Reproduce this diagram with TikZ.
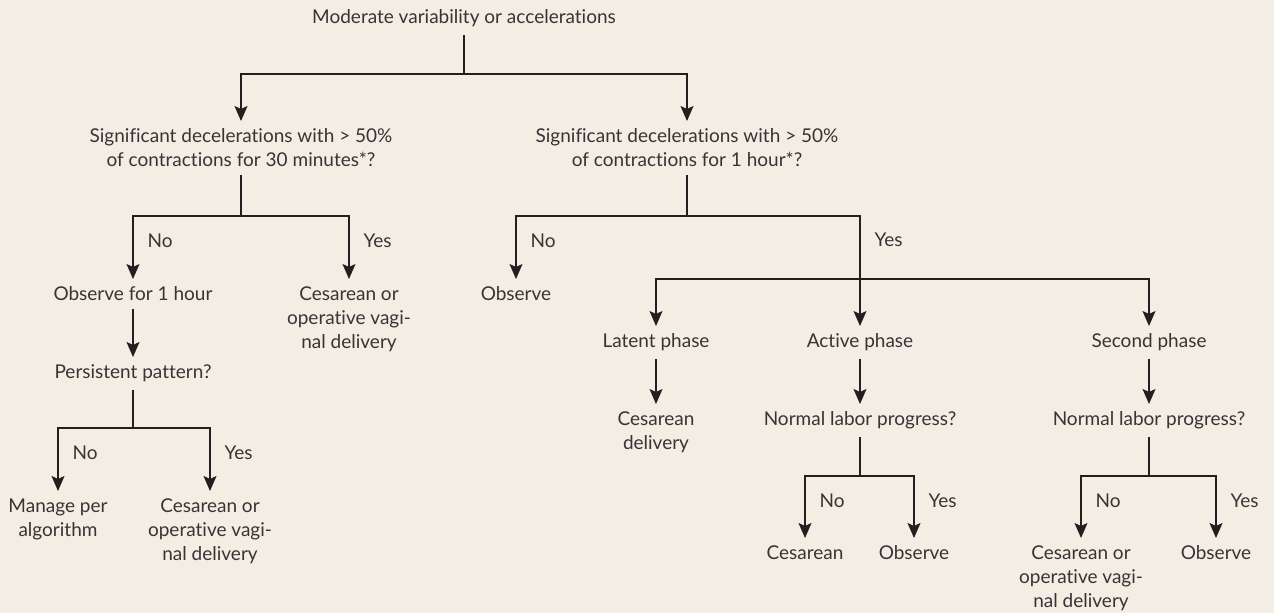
\documentclass[tikz,border=0pt]{standalone}
\usepackage{fontspec}
\setmainfont{Lato}[Ligatures=NoCommon]
\usetikzlibrary{arrows.meta,positioning}
\definecolor{paper}{HTML}{F3EDE4}
\definecolor{ink}{HTML}{231F20}
\definecolor{txt}{HTML}{353535}
\tikzset{
  box/.style={anchor=north, align=center, inner xsep=0pt, inner ysep=7.5pt, text=txt, font=\fontsize{19}{24}\selectfont},
  lbl/.style={anchor=west, inner xsep=14pt, inner ysep=0pt, text=txt, font=\fontsize{19}{24}\selectfont},
  link/.style={draw=ink, line width=1.3pt},
  arr/.style={link, -{Stealth[length=15pt,width=13pt,inset=3pt]}},
}
\begin{document}
\begin{tikzpicture}[x=1pt,y=-1pt]
\fill[paper] (0,0) rectangle (1274,613);
\useasboundingbox (0,0) rectangle (1274,613);

\node[box] (top) at (464,2) {Moderate variability or accelerations};
\node[box] (q30) at (241,121) {Significant decelerations with > 50\%\\of contractions for 30 minutes*?};
\node[box] (q1h) at (687,121) {Significant decelerations with > 50\%\\of contractions for 1 hour*?};

\node[box] (obs1h) at (133,279) {Observe for 1 hour};
\node[box] (cesL1) at (349,279) {Cesarean or\\operative vagi-\\nal delivery};
\node[box] (pers) at (133,357) {Persistent pattern?};
\node[box] (manage) at (58,491) {Manage per\\algorithm};
\node[box] (cesL2) at (210,491) {Cesarean or\\operative vagi-\\nal delivery};

\node[box] (obsR) at (516,279) {Observe};
\node[box] (latent) at (656,326) {Latent phase};
\node[box] (active) at (860,326) {Active phase};
\node[box] (second) at (1149,326) {Second phase};
\node[box] (cesD) at (656,404) {Cesarean\\delivery};
\node[box] (normA) at (860,404) {Normal labor progress?};
\node[box] (normS) at (1149,404) {Normal labor progress?};
\node[box] (cesA) at (805,538) {Cesarean};
\node[box] (obsA) at (914,538) {Observe};
\node[box] (cesS) at (1081,538) {Cesarean or\\operative vagi-\\nal delivery};
\node[box] (obsS) at (1216,538) {Observe};

\coordinate (f0) at (464,74);
\coordinate (fL) at (241,216);
\coordinate (fR) at (687,216);
\coordinate (fP) at (133,428);
\coordinate (ph) at (860,279);
\coordinate (fA) at (860,476);
\coordinate (fS) at (1149,476);

\draw[link] (top.south) -- (f0);
\draw[arr] (f0) -| (q30.north);
\draw[arr] (f0) -| (q1h.north);

\draw[link] (q30.south) -- (fL);
\draw[arr] (fL) -| node[lbl,pos=0.7] {No} (obs1h.north);
\draw[arr] (fL) -| node[lbl,pos=0.7] {Yes} (cesL1.north);
\draw[arr] (obs1h) -- (pers);
\draw[link] (pers.south) -- (fP);
\draw[arr] (fP) -| node[lbl,pos=0.7] {No} (manage.north);
\draw[arr] (fP) -| node[lbl,pos=0.7] {Yes} (cesL2.north);

\draw[link] (q1h.south) -- (fR);
\draw[arr] (fR) -| node[lbl,pos=0.7] {No} (obsR.north);
\draw[arr] (fR) -| node[lbl,pos=0.61] {Yes} (active.north);
\draw[arr] (ph) -| (latent.north);
\draw[arr] (ph) -| (second.north);

\draw[arr] (latent) -- (cesD);
\draw[arr] (active) -- (normA);
\draw[arr] (second) -- (normS);

\draw[link] (normA.south) -- (fA);
\draw[arr] (fA) -| node[lbl,pos=0.7] {No} (cesA.north);
\draw[arr] (fA) -| node[lbl,pos=0.7] {Yes} (obsA.north);
\draw[link] (normS.south) -- (fS);
\draw[arr] (fS) -| node[lbl,pos=0.7] {No} (cesS.north);
\draw[arr] (fS) -| node[lbl,pos=0.7] {Yes} (obsS.north);
\end{tikzpicture}
\end{document}
